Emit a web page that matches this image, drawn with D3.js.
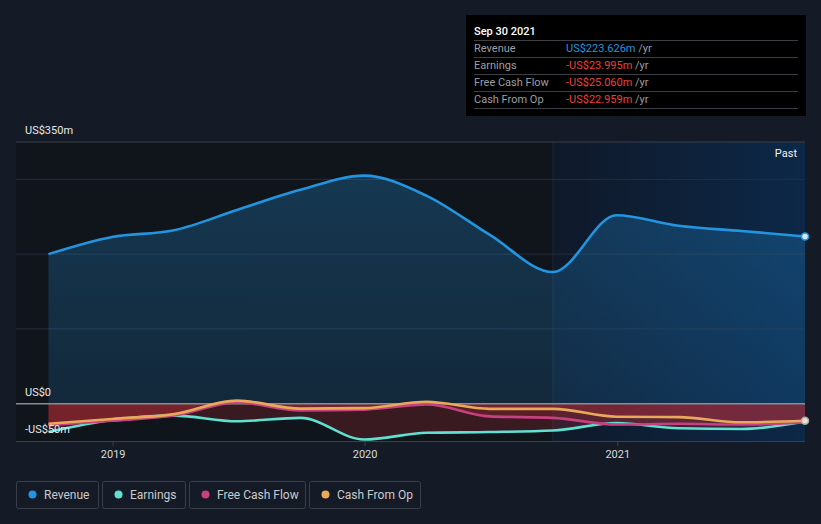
<!DOCTYPE html>
<html>
<head>
<meta charset="utf-8">
<script src="https://cdn.jsdelivr.net/npm/d3@7"></script>
<style>
  html, body { margin: 0; padding: 0; background: #151b26; }
  svg { display: block; font-family: Roboto, "Open Sans", sans-serif; }
</style>
</head>
<body>
<svg id="chart" width="821" height="524"></svg>
<script>
// ---- Data ----
const dates = ["2018-09-30","2018-12-31","2019-03-31","2019-06-30","2019-09-30","2019-12-31",
               "2020-03-31","2020-06-30","2020-09-30","2020-12-31","2021-03-31","2021-06-30","2021-09-30"];
const revenue      = [200, 223, 232, 259, 286, 305, 278, 226, 176, 252, 238, 231, 223.626];
const earnings     = [-38, -22, -16, -23.6, -19, -48, -39, -38, -36, -26, -33, -34, -23.995];
const freeCashFlow = [-29, -23, -16, 1.5, -9, -8, -1, -17, -19, -28, -27, -28, -25.060];
const cashFromOp   = [-27, -20.5, -14, 4, -6.7, -6, 2.5, -7, -7, -17.5, -18, -25, -22.959];
const yTickValues  = [-50, 0, 350];
const yTickLabels  = ["-US$50m", "US$0", "US$350m"];
const gridValues   = [100, 200, 300];
const xTickLabels  = ["2019", "2020", "2021"];
const seriesNames  = ["Revenue", "Earnings", "Free Cash Flow", "Cash From Op"];
const seriesColors = ["#2394df", "#5fe0d0", "#c7407f", "#e8a95b"];
const tooltipTitle = "Sep 30 2021";
const tooltipValues = ["US$223.626m", "-US$23.995m", "-US$25.060m", "-US$22.959m"];
const pastLabel = "Past";
const pastStart = "2020-09-30";

const parse = d3.timeParse("%Y-%m-%d");
const dts = dates.map(parse);

const svg = d3.select("#chart");
const x = d3.scaleTime().domain([parse("2018-08-14"), parse("2021-09-30")]).range([16, 805]);
const y = d3.scaleLinear().domain([-50, 350]).range([441, 142]);

const defs = svg.append("defs");
const pg = defs.append("linearGradient").attr("id", "pastGrad").attr("x1", 0).attr("x2", 1).attr("y1", 0).attr("y2", 0);
pg.append("stop").attr("offset", "0%").attr("stop-color", "#0f1929");
pg.append("stop").attr("offset", "100%").attr("stop-color", "#0c2848");
const rg = defs.append("linearGradient").attr("id", "revGrad").attr("x1", 0).attr("x2", 0).attr("y1", 0).attr("y2", 1);
rg.append("stop").attr("offset", "0%").attr("stop-color", "#2394df").attr("stop-opacity", 0.28);
rg.append("stop").attr("offset", "100%").attr("stop-color", "#2394df").attr("stop-opacity", 0.16);

// Plot backgrounds
const xPast = x(parse(pastStart));
svg.append("rect").attr("x", 16).attr("y", 142).attr("width", xPast - 16).attr("height", 441 - 142).attr("fill", "#10141b");
svg.append("rect").attr("x", xPast).attr("y", 142).attr("width", 805 - xPast).attr("height", 441 - 142).attr("fill", "url(#pastGrad)");
svg.append("line").attr("x1", xPast).attr("x2", xPast).attr("y1", 142).attr("y2", 441).attr("stroke", "#1c2a3c").attr("stroke-width", 1);

// Grid lines
svg.selectAll(".grid").data(gridValues).enter().append("line")
  .attr("x1", 16).attr("x2", 805).attr("y1", d => y(d)).attr("y2", d => y(d))
  .attr("stroke", "#262e3a").attr("stroke-width", 1);
svg.append("line").attr("x1", 16).attr("x2", 805).attr("y1", y(350)).attr("y2", y(350)).attr("stroke", "#3b404b").attr("stroke-width", 1);

// Revenue area
const rows = dts.map((d, i) => ({d, rev: revenue[i], e: earnings[i], f: freeCashFlow[i], c: cashFromOp[i]}));
svg.append("path").datum(rows)
  .attr("d", d3.area().curve(d3.curveMonotoneX).x(r => x(r.d)).y0(y(0)).y1(r => y(r.rev)))
  .attr("fill", "url(#revGrad)");

// Negative series areas
["e", "f", "c"].forEach(k => {
  svg.append("path").datum(rows)
    .attr("d", d3.area().curve(d3.curveMonotoneX).x(r => x(r.d)).y0(y(0)).y1(r => y(r[k])))
    .attr("fill", "#e0323e").attr("fill-opacity", 0.2);
});

// Zero line
svg.append("line").attr("x1", 16).attr("x2", 805).attr("y1", y(0)).attr("y2", y(0)).attr("stroke", "#8a8d93").attr("stroke-width", 1.5);

// Bottom axis
const xAxis = d3.axisBottom(x).tickValues(xTickLabels.map(t => parse(t + "-01-01"))).tickFormat((d, i) => xTickLabels[i]).tickSize(5).tickPadding(4);
const gx = svg.append("g").attr("transform", "translate(0,441)").call(xAxis);
gx.select(".domain").attr("stroke", "#3b404b").attr("d", "M16,0.5H805");
gx.selectAll(".tick line").attr("stroke", "#3b404b");
gx.selectAll(".tick text").attr("fill", "#d9dadc").attr("font-size", 11).attr("font-family", "Roboto, sans-serif");

// Lines
const keys = ["rev", "e", "f", "c"];
keys.forEach((k, i) => {
  svg.append("path").datum(rows)
    .attr("d", d3.line().curve(d3.curveMonotoneX).x(r => x(r.d)).y(r => y(r[k])))
    .attr("fill", "none").attr("stroke", seriesColors[i]).attr("stroke-width", 2.6);
});

// End markers
const last = rows[rows.length - 1];
svg.append("circle").attr("cx", x(last.d)).attr("cy", y(last.rev)).attr("r", 3.5)
  .attr("fill", "#d6e9f8").attr("stroke", "#2394df").attr("stroke-width", 1.5);
svg.append("circle").attr("cx", x(last.d)).attr("cy", y(last.c)).attr("r", 3.5)
  .attr("fill", "#e6e1d8").attr("stroke", "#b0a9a0").attr("stroke-width", 1.5);

// Y labels
svg.selectAll(".ylab").data(yTickValues).enter().append("text")
  .attr("x", 25).attr("y", d => y(d) - 8)
  .attr("fill", "#e8e9ea").attr("font-size", 11)
  .text((d, i) => yTickLabels[i]);

// Past label
svg.append("text").attr("x", 797).attr("y", 157).attr("text-anchor", "end")
  .attr("fill", "#f2f2f2").attr("font-size", 11).text(pastLabel);

// Tooltip
const tt = svg.append("g");
tt.append("rect").attr("x", 466).attr("y", 15).attr("width", 340).attr("height", 101).attr("fill", "#000");
tt.append("text").attr("x", 474).attr("y", 35).attr("fill", "#fff").attr("font-size", 11).attr("font-weight", 500).text(tooltipTitle);
const rowY = [40, 57, 74, 91, 108];
rowY.forEach(yy => tt.append("line").attr("x1", 474).attr("x2", 798).attr("y1", yy + 0.5).attr("y2", yy + 0.5).attr("stroke", "#3d3f44"));
seriesNames.forEach((n, i) => {
  const by = rowY[i] + 12;
  tt.append("text").attr("x", 474).attr("y", by).attr("fill", "#9c9ea3").attr("font-size", 11).text(n);
  const t = tt.append("text").attr("x", 566).attr("y", by).attr("font-size", 11);
  t.append("tspan").attr("fill", i === 0 ? "#2394df" : "#e8403b").text(tooltipValues[i]);
  t.append("tspan").attr("fill", "#9c9ea3").text(" /yr");
});

// Legend
const legendBoxes = [[16, 82], [102, 83], [189, 116], [309, 111]];
seriesNames.forEach((n, i) => {
  const [lx, lw] = legendBoxes[i];
  const g = svg.append("g").attr("transform", `translate(${lx},481)`);
  g.append("rect").attr("x", 0.5).attr("y", 0.5).attr("width", lw).attr("height", 27).attr("rx", 2)
    .attr("fill", "none").attr("stroke", "#3b3f48");
  g.append("circle").attr("cx", 16.5).attr("cy", 13.5).attr("r", 4).attr("fill", seriesColors[i]);
  g.append("text").attr("x", 28).attr("y", 18).attr("fill", "#c9cacd").attr("font-size", 12).text(n);
});
</script>
</body>
</html>
